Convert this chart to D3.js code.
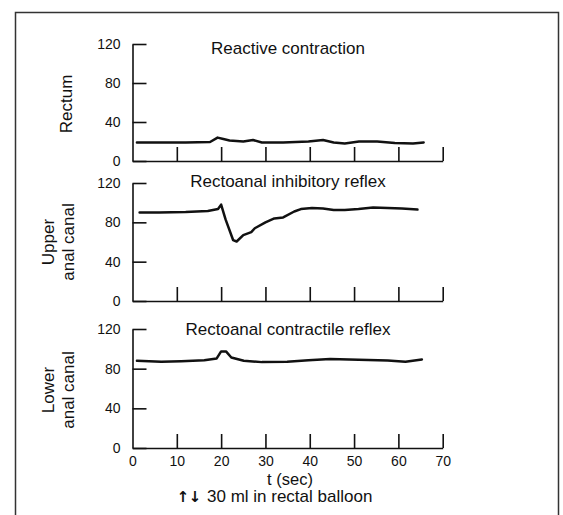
<!DOCTYPE html>
<html>
<head>
<meta charset="utf-8">
<script src="https://cdn.jsdelivr.net/npm/d3@7"></script>
<style>
  html, body { margin: 0; padding: 0; background: #fff; }
  svg { display: block; }
  text { font-family: "Liberation Sans", Arial, Helvetica, sans-serif; fill: #111; }
</style>
</head>
<body>
<svg id="chart" width="563" height="515"></svg>
<script>
// ---- data ----
const panelTitles = ["Reactive contraction", "Rectoanal inhibitory reflex", "Rectoanal contractile reflex"];
const panelYLabels = [["Rectum"], ["Upper", "anal canal"], ["Lower", "anal canal"]];
const yTicks = [0, 40, 80, 120];
const xTicks = [0, 10, 20, 30, 40, 50, 60, 70];
const xAxisTitle = "t (sec)";
const footnote = "30 ml in rectal balloon";

const rectumT = [1, 6, 12, 17.5, 19.2, 20.5, 21.9, 25, 27.2, 29.2, 34, 39.7, 43, 45.4, 47.9, 51.1, 55.2, 59.2, 63.3, 65.7];
const rectumV = [19, 19, 19, 19.5, 24, 22.5, 21, 20, 21.5, 19, 19, 20, 21.5, 19, 18, 20, 20, 18.5, 18, 19];

const upperT = [1.6, 6, 12, 17, 19.3, 20.0, 21.0, 22.7, 23.5, 25, 26.8, 27.6, 30, 32, 34, 36.5, 38, 40.5, 43, 45.4, 47.9, 51, 54.3, 57.6, 60.8, 64.3];
const upperV = [90, 90, 90.5, 91.5, 93.5, 98, 83, 62, 60.5, 67, 70, 74, 80, 84, 85, 91, 93.5, 94.5, 94, 92.5, 92.5, 93.5, 95, 94.5, 94, 93];

const lowerT = [1, 6.5, 11, 16.2, 19, 20, 21.1, 22.3, 25.1, 29.2, 34.9, 39.7, 44.6, 51, 57.6, 61.6, 65.3];
const lowerV = [88, 87, 87.6, 88.6, 90.3, 97.4, 97.4, 91.3, 88, 86.6, 87, 88.6, 89.7, 89, 88.3, 87, 89.3];

const series = [
  rectumT.map((t, i) => ({ t, v: rectumV[i] })),
  upperT.map((t, i) => ({ t, v: upperV[i] })),
  lowerT.map((t, i) => ({ t, v: lowerV[i] }))
];

// ---- layout ----
const svg = d3.select("#chart");
const panels = [
  { top: 44, bottom: 161, titleY: 54, labelY: 104, labelX: [72] },
  { top: 183, bottom: 301, titleY: 187, labelY: 242, labelX: [54, 74] },
  { top: 329, bottom: 448, titleY: 335, labelY: 390, labelX: [54, 74] }
];

// frame
svg.append("path")
  .attr("d", "M15.5,520 L15.5,12.5 L558.5,12.5 L558.5,520")
  .attr("fill", "none").attr("stroke", "#333").attr("stroke-width", 1.5);

const x = d3.scaleLinear().domain([0, 70]).range([132.5, 442.7]);

panels.forEach((p, i) => {
  const y = d3.scaleLinear().domain([0, 120]).range([p.bottom, p.top]);
  const g = svg.append("g");

  const yAxis = d3.axisLeft(y).tickValues(yTicks).tickSizeInner(-14).tickSizeOuter(0).tickPadding(12);
  const gy = g.append("g").attr("transform", `translate(${x(0)},0)`).call(yAxis);

  const xAxis = d3.axisBottom(x).tickValues(xTicks).tickSizeInner(-14).tickSizeOuter(0).tickPadding(8);
  if (i < 2) xAxis.tickFormat("");
  const gx = g.append("g").attr("transform", `translate(0,${p.bottom})`).call(xAxis);

  [gy, gx].forEach(a => {
    a.selectAll("path, line").attr("stroke", "#111").attr("stroke-width", 1.6);
    a.selectAll("text").attr("font-size", 14).attr("fill", "#111")
      .style("font-family", '"Liberation Sans", Arial, Helvetica, sans-serif');
  });
  gx.selectAll(".tick").filter(d => d === 0).select("line").remove();

  // title
  g.append("text").attr("x", 288).attr("y", p.titleY)
    .attr("text-anchor", "middle").attr("font-size", 17).text(panelTitles[i]);

  // y label (rotated)
  panelYLabels[i].forEach((lab, j) => {
    g.append("text")
      .attr("transform", `translate(${p.labelX[j]},${p.labelY}) rotate(-90)`)
      .attr("text-anchor", "middle").attr("font-size", 17).text(lab);
  });

  // trace
  const line = d3.line().x(d => x(d.t)).y(d => y(d.v)).curve(d3.curveLinear);
  g.append("path").datum(series[i]).attr("d", line)
    .attr("fill", "none").attr("stroke", "#111").attr("stroke-width", 2.5)
    .attr("stroke-linejoin", "round").attr("stroke-linecap", "round");
});

// axis title and footnote
svg.append("text").attr("x", 290).attr("y", 485).attr("text-anchor", "middle")
  .attr("font-size", 16.5).text(xAxisTitle);
svg.append("text").attr("x", 183).attr("y", 502).attr("text-anchor", "middle")
  .attr("font-size", 15).attr("font-weight", "bold")
  .style("font-family", '"DejaVu Sans", sans-serif').text("↑");
svg.append("text").attr("x", 195).attr("y", 502).attr("text-anchor", "middle")
  .attr("font-size", 15).attr("font-weight", "bold")
  .style("font-family", '"DejaVu Sans", sans-serif').text("↓");
svg.append("text").attr("x", 207).attr("y", 502).attr("text-anchor", "start")
  .attr("font-size", 17).text(footnote);
</script>
</body>
</html>
